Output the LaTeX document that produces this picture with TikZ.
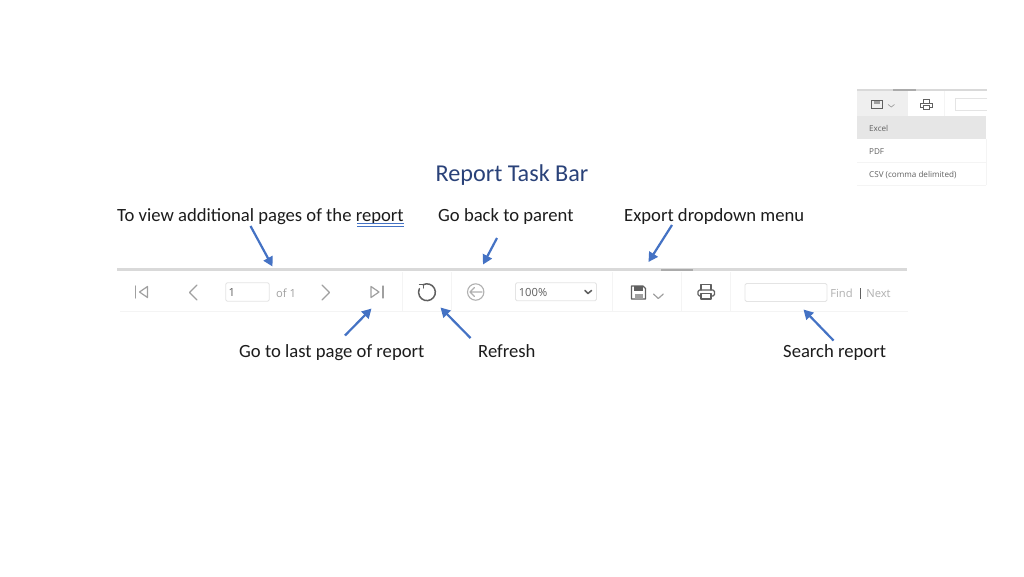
\documentclass[tikz,border=0pt]{standalone}
\usepackage{fontspec}
\setmainfont{Carlito}
\newfontfamily\uifont{Open Sans}
\usetikzlibrary{arrows.meta}
\definecolor{arrowblue}{HTML}{4472C4}
\definecolor{titleblue}{HTML}{2A4279}
\definecolor{labelink}{HTML}{1C1C1C}
\definecolor{barline}{HTML}{D9D9D9}
\definecolor{faintline}{HTML}{F4F4F4}
\definecolor{boxline}{HTML}{E4E4E4}
\definecolor{icondark}{HTML}{606060}
\definecolor{iconmid}{HTML}{A0A0A0}
\definecolor{iconlight}{HTML}{B0B0B0}
\definecolor{handle}{HTML}{ABABAB}
\definecolor{rowgrey}{HTML}{E6E6E6}
\definecolor{tabgrey}{HTML}{EFEFEF}
\tikzset{
  x=1pt,y=-1pt,
  callout/.style={anchor=base west,inner sep=0pt,text=labelink,font=\fontsize{18.65}{20}\selectfont},
  barsmall/.style={inner sep=0pt,text=iconmid,font=\uifont\fontsize{11.2}{13}\selectfont},
  insettext/.style={anchor=base west,inner sep=0pt,text=icondark,font=\uifont\fontsize{8.1}{10}\selectfont},
  pointer/.style={draw=arrowblue,line width=2.2pt,-{Triangle[width=10pt,length=9.5pt]}},
  divider/.style={draw=faintline,line width=0.8pt},
  inputbox/.style={draw=boxline,line width=0.9pt,rounded corners=1.5pt,fill=white},
  thinicon/.style={draw=iconmid,line width=1.2pt,line cap=round,line join=round},
  darkicon/.style={draw=icondark,line width=1.2pt,line cap=round,line join=round},
}
\begin{document}
\begin{tikzpicture}
\useasboundingbox (0,0) rectangle (1024,576);
\fill[white] (0,0) rectangle (1024,576);

% title and labels
\node[inner sep=0pt,text=titleblue,font=\fontsize{24.2}{26}\selectfont] (title) at (512,175) {Report Task Bar};
\node[callout] (lview) at (117,221) {To view additional pages of the report};
\node[callout] (lback) at (438,221) {Go back to parent};
\node[callout] (lexport) at (624,221) {Export dropdown menu};
\node[callout] (llast) at (239,357) {Go to last page of report};
\node[callout] (lrefresh) at (478,357) {Refresh};
\node[callout] (lsearch) at (783,357) {Search report};
\draw[arrowblue,line width=0.8pt] (357,223.8) -- (404,223.8) (357,226) -- (404,226);

% task bar
\draw[barline,line width=3pt] (117,269.5) -- (907,269.5);
\draw[handle,line width=2pt] (661,269.5) -- (693,269.5);
\draw[faintline,line width=1pt] (120,311.5) -- (908,311.5);
\foreach \dx in {402,451,612,681,730} \draw[divider] (\dx,272) -- (\dx,311);

% first page
\draw[thinicon] (135.5,286) -- (135.5,298);
\draw[thinicon] (147.5,286.5) -- (139.5,292) -- (147.5,297.5) -- cycle;
% previous
\draw[thinicon] (197,285) -- (189.5,292.5) -- (197,300);
% page box
\node[inputbox,minimum width=43.5pt,minimum height=18.5pt,inner sep=0pt] (pagebox) at (247.5,292) {};
\node[barsmall,text=icondark,anchor=west] (pagenum) at (228.5,292.5) {1};
\node[barsmall] (ofone) at (286,293) {of 1};
% next
\draw[thinicon] (322,285) -- (329.5,292.5) -- (322,300);
% last page
\draw[thinicon] (371,286.5) -- (379,292) -- (371,297.5) -- cycle;
\draw[thinicon] (383,286) -- (383,298);
% refresh
\draw[darkicon,line width=1.5pt] (423,284.8) arc[start angle=-118,end angle=205,radius=8.4] ;
\draw[darkicon,line width=1.2pt] (419.5,284.5) -- (423.5,284.5) -- (423.5,288);
% back
\draw[iconlight,line width=1.1pt] (475.7,292) circle[radius=8.2];
\draw[iconlight,line width=1.1pt,line cap=round,line join=round] (482,292) -- (470,292) (474.5,287.5) -- (470,292) -- (474.5,296.5);
% zoom select
\node[inputbox,minimum width=81pt,minimum height=18pt,inner sep=0pt] (zoombox) at (556,291.7) {};
\node[barsmall,text=icondark] (zoomtext) at (533,292.5) {100\%};
\draw[icondark,line width=1.5pt,line cap=round,line join=round] (585,290.5) -- (588,293.5) -- (591.5,290.5);
% save
\draw[darkicon,fill=white] (631.5,286) -- (643,286) -- (645.5,288.5) -- (645.5,299) -- (631.5,299) -- cycle;
\fill[icondark] (634,286) rectangle (643,291);
\fill[iconmid] (634.5,294) rectangle (642.5,299);
\draw[thinicon] (653.5,294) -- (658.3,298.5) -- (663.3,294);
% printer
\draw[darkicon] (701,290) -- (701,284.5) -- (711,284.5) -- (711,290);
\draw[darkicon,rounded corners=1.5pt] (701,296) -- (698,296) -- (698,290) -- (714.5,290) -- (714.5,296) -- (711,296);
\draw[darkicon] (701,293.5) rectangle (711,299);
% search
\node[inputbox,minimum width=82pt,minimum height=18pt,inner sep=0pt] (searchbox) at (786,292.5) {};
\node[barsmall,text=iconlight] (find) at (841.5,293.5) {Find};
\draw[icondark,line width=1pt] (860.7,288) -- (860.7,299);
\node[barsmall,text=iconlight] (nextlink) at (878.5,293.5) {Next};

% inset
\fill[tabgrey] (857,91) rectangle (908,116);
\fill[rowgrey] (857,116) rectangle (986,139);
\draw[barline,line width=1.6pt] (857,90) -- (987,90);
\draw[handle,line width=1.6pt] (893,90) -- (916,90);
\draw[faintline,line width=0.8pt] (944,91) -- (944,116);
\draw[faintline,line width=0.8pt] (857,162) -- (986,162);
\draw[faintline,line width=0.8pt] (857,185) -- (986,185);
\draw[faintline,line width=0.8pt] (986,139) -- (986,185);
\draw[boxline,line width=0.8pt] (987,98.5) -- (955.5,98.5) -- (955.5,110) -- (987,110);
\draw[icondark,line width=0.9pt] (871.5,100.5) rectangle (882,108.5);
\fill[iconmid] (873.5,100.5) rectangle (880,103.5);
\draw[iconmid,line width=0.7pt] (888,104.5) -- (891.3,107) -- (894.5,104.5);
\draw[icondark,line width=0.9pt] (923,103) -- (923,99.5) -- (929.5,99.5) -- (929.5,103);
\draw[icondark,line width=0.9pt] (923,107.5) -- (920.5,107.5) -- (920.5,103) -- (932,103) -- (932,107.5) -- (929.5,107.5);
\draw[icondark,line width=0.9pt] (923,105.5) rectangle (929.5,109);
\node[insettext] (excel) at (869,131) {Excel};
\node[insettext] (pdf) at (869,154) {PDF};
\node[insettext] (csv) at (869,177) {CSV (comma delimited)};

% connector ends
\coordinate (viewfrom) at (250.5,226);
\coordinate (viewto) at (272.5,266.5);
\coordinate (backfrom) at (497,238);
\coordinate (backto) at (483,264.5);
\coordinate (exportfrom) at (672,225);
\coordinate (exportto) at (648.5,262);
\coordinate (lastfrom) at (345,335.5);
\coordinate (lastto) at (371.5,308.5);
\coordinate (refreshfrom) at (470.5,338);
\coordinate (refreshto) at (440.5,307.5);
\coordinate (searchfrom) at (833.5,340.5);
\coordinate (searchto) at (803.5,309.5);
\draw[pointer] (viewfrom) -- (viewto);
\draw[pointer] (backfrom) -- (backto);
\draw[pointer] (exportfrom) -- (exportto);
\draw[pointer] (lastfrom) -- (lastto);
\draw[pointer] (refreshfrom) -- (refreshto);
\draw[pointer] (searchfrom) -- (searchto);
\end{tikzpicture}
\end{document}
